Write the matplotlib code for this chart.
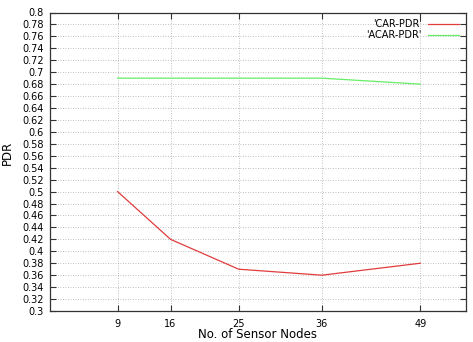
import matplotlib
matplotlib.use("Agg")
import matplotlib.pyplot as plt
import numpy as np

nodes = [9, 16, 25, 36, 49]
car_pdr = [0.50, 0.42, 0.37, 0.36, 0.38]
acar_pdr = [0.69, 0.69, 0.69, 0.69, 0.68]
yticks = np.round(np.arange(0.30, 0.801, 0.02), 2)

plt.rcParams['font.family'] = ['DejaVu Sans']
fig = plt.figure(figsize=(4.73, 3.42), dpi=100)
ax = fig.add_axes([49.5/473, 1-311/342, (465.7-49.5)/473, (311-12.5)/342])

ax.plot(nodes, car_pdr, color='#e03c3c', lw=0.9, label="'CAR-PDR'")
ax.plot(nodes, acar_pdr, color='#66ee66', lw=0.9, label="'ACAR-PDR'")

ax.set_xlim(0, 55)
ax.set_ylim(0.3, 0.8)
ax.set_xticks(nodes)
ax.set_yticks(yticks)
ax.set_yticklabels([f"{v:g}" for v in yticks])
ax.tick_params(direction='in', length=4, width=0.8, labelsize=7, top=True, right=True,
               color='#333333', pad=4)
ax.tick_params(axis='x', pad=6)
ax.grid(True, color='#aaaaaa', linestyle=(0, (1, 2)), linewidth=0.6)
for s in ax.spines.values():
    s.set_color('#333333')
    s.set_linewidth(0.9)

ax.set_xlabel('No. of Sensor Nodes', fontsize=8.5, va='bottom')
ax.set_ylabel('PDR', fontsize=8.5)
ax.yaxis.set_label_coords(-0.085, 0.53)
ax.xaxis.set_label_coords(0.5, -0.1)

leg = ax.legend(loc='upper right', frameon=False, fontsize=7, markerfirst=False,
                handlelength=3.2, handletextpad=0.6, labelspacing=0.1,
                borderaxespad=0.3)
for t in leg.get_texts():
    t.set_ha('right')

fig.savefig('out.png', dpi=100)
